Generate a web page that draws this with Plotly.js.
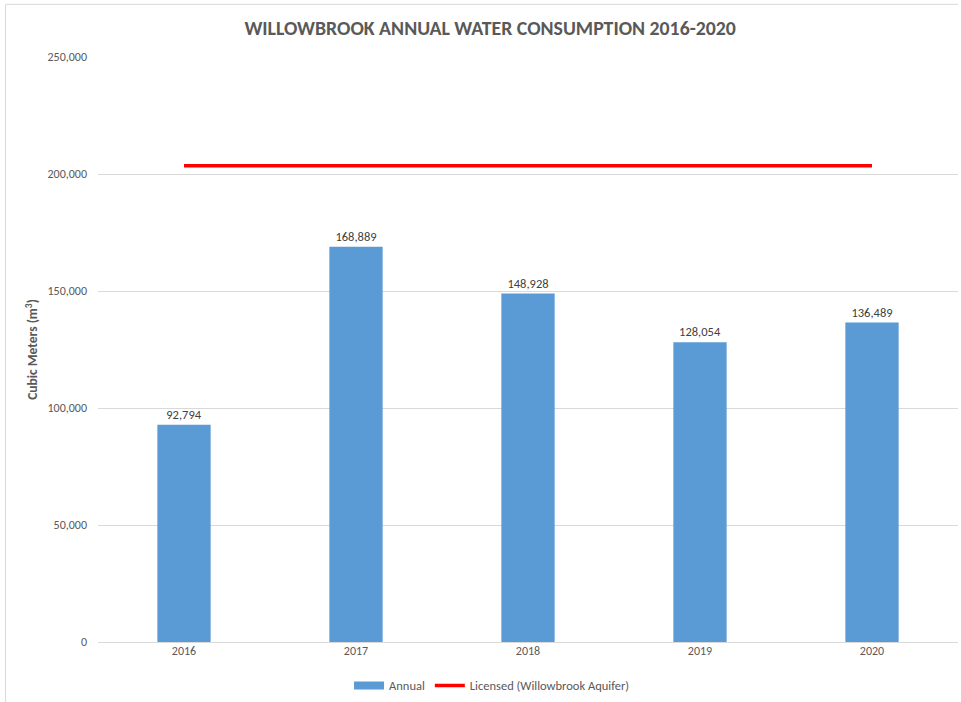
<!DOCTYPE html>
<html>
<head>
<meta charset="utf-8">
<script src="https://cdn.plot.ly/plotly-3.0.1.min.js"></script>
<style>html,body{margin:0;padding:0;background:#fff;}#chart{width:961px;height:702px;}</style>
</head>
<body>
<div id="chart"></div>
<script>
const years = ["2016", "2017", "2018", "2019", "2020"];
const annual = [92794, 168889, 148928, 128054, 136489];
const licensed = [203500, 203500, 203500, 203500, 203500];
const yTicks = [0, 50000, 100000, 150000, 200000, 250000];

const font = "Calibri, Carlito, 'Open Sans', 'Liberation Sans', sans-serif";
const blue = "#5b9bd5";

const traces = [
  {
    type: "bar",
    name: "Annual",
    x: years,
    y: annual,
    marker: {color: blue},
    text: annual.map(v => v.toLocaleString("en-US")),
    textposition: "outside",
    cliponaxis: false,
    textfont: {family: font, size: 12.5, color: "#404040"},
    showlegend: false
  },
  {
    type: "scatter",
    mode: "lines",
    name: "Annual",
    x: [null],
    y: [null],
    line: {color: blue, width: 8},
    showlegend: true
  },
  {
    type: "scatter",
    mode: "lines",
    name: "Licensed (Willowbrook Aquifer)",
    x: years,
    y: licensed,
    line: {color: "#ff0000", width: 3.5}
  }
];

const layout = {
  width: 961,
  height: 702,
  paper_bgcolor: "#ffffff",
  plot_bgcolor: "#ffffff",
  font: {family: font, color: "#595959", size: 12},
  margin: {l: 98, r: 3, t: 57, b: 60, autoexpand: false},
  title: {
    text: "<b>WILLOWBROOK ANNUAL WATER CONSUMPTION 2016-2020</b>",
    font: {family: font, size: 19.8, color: "#595959"},
    x: 0.51, xanchor: "center", y: 0.96, yanchor: "middle"
  },
  bargap: 0.69,
  showlegend: true,
  legend: {
    orientation: "h",
    xref: "container", yref: "container",
    x: 0.512, xanchor: "center",
    y: 0.023, yanchor: "middle",
    font: {family: font, size: 12.5, color: "#595959"}
  },
  xaxis: {
    type: "category",
    showgrid: false,
    showline: false,
    ticks: "",
    tickfont: {family: font, size: 12, color: "#595959"}
  },
  yaxis: {
    range: [0, 250000],
    tickvals: yTicks,
    ticktext: yTicks.map(v => v.toLocaleString("en-US")),
    showgrid: true,
    gridcolor: "#d9d9d9",
    gridwidth: 1,
    zeroline: true,
    zerolinecolor: "#d9d9d9",
    zerolinewidth: 1,
    ticks: "",
    ticklabelstandoff: 10,
    tickfont: {family: font, size: 12, color: "#595959"},
    title: {
      text: "<b>Cubic Meters (m<sup>3</sup>)</b>",
      font: {family: font, size: 13.5, color: "#595959"},
      standoff: 6
    }
  },
  shapes: [
    {type: "line", xref: "paper", yref: "paper", x0: -0.1075, x1: -0.1075, y0: -0.11, y1: 1.09,
     line: {color: "#d9d9d9", width: 1}},
    {type: "line", xref: "paper", yref: "paper", x0: -0.1075, x1: 1.0, y0: 1.09, y1: 1.09,
     line: {color: "#d9d9d9", width: 1}}
  ]
};

Plotly.newPlot("chart", traces, layout, {displayModeBar: false, staticPlot: true});
</script>
</body>
</html>
